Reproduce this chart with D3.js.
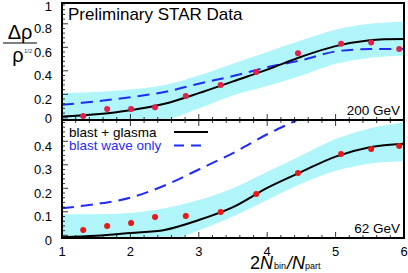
<!DOCTYPE html>
<html>
<head>
<meta charset="utf-8">
<script src="https://d3js.org/d3.v7.min.js"></script>
<style>
  body { margin: 0; background: #fff; }
  text { font-family: "Liberation Sans", Arial, sans-serif; }
</style>
</head>
<body>
<div id="container"></div>
<script>
var w = 408, h = 273;

// shared x grid for the model curves
var gridX = [1, 1.5, 2, 2.5, 3, 3.5, 4, 4.5, 5, 5.5, 6];

// 200 GeV panel
var topDataX = [1.31, 1.66, 2.01, 2.36, 2.81, 3.32, 3.84, 4.45, 5.08, 5.52, 5.93];
var topDataY = [0.055, 0.115, 0.115, 0.13, 0.225, 0.32, 0.43, 0.59, 0.67, 0.68, 0.625];
var topGlasma = [0.05, 0.07, 0.105, 0.16, 0.25, 0.35, 0.45, 0.56, 0.65, 0.70, 0.71];
var topBlast = [0.15, 0.18, 0.215, 0.26, 0.33, 0.395, 0.47, 0.53, 0.605, 0.625, 0.625];
var topBandHi = [0.25, 0.26, 0.28, 0.32, 0.40, 0.50, 0.60, 0.70, 0.79, 0.84, 0.86];
var topBandLo = [-0.05, -0.04, -0.02, 0.02, 0.12, 0.23, 0.31, 0.40, 0.50, 0.55, 0.57];

// 62 GeV panel
var botDataX = [1.31, 1.66, 2.01, 2.36, 2.81, 3.32, 3.84, 4.45, 5.08, 5.52, 5.93];
var botDataY = [0.043, 0.06, 0.072, 0.098, 0.102, 0.119, 0.196, 0.285, 0.366, 0.387, 0.40];
var botGlasma = [0.012, 0.018, 0.03, 0.043, 0.085, 0.14, 0.222, 0.29, 0.355, 0.395, 0.41];
var botBlast = [0.135, 0.153, 0.18, 0.232, 0.30, 0.37, 0.45, 0.52, 0.60, 0.65, 0.68];
var botBandHi = [0.11, 0.11, 0.115, 0.135, 0.17, 0.22, 0.29, 0.36, 0.43, 0.475, 0.50];
var botBandLo = [-0.05, -0.04, -0.03, -0.01, 0.04, 0.10, 0.17, 0.24, 0.295, 0.325, 0.335];

var xTicks = [1, 2, 3, 4, 5, 6];
var topTicks = [0, 0.2, 0.4, 0.6, 0.8, 1];
var botTicks = [0, 0.1, 0.2, 0.3, 0.4];

var left = 62, right = 404;
var x = d3.scaleLinear().domain([1, 6]).range([left, right]);
var yTop = d3.scaleLinear().domain([0, 1]).range([122.5, 5]);
var yBot = d3.scaleLinear().domain([0, 0.5]).range([240, 122.5]);

var panels = [
  {y: yTop, y0: 3, y1: 120, dataY: topDataY, dataX: topDataX, glasma: topGlasma, blast: topBlast,
   hi: topBandHi, lo: topBandLo, ticks: topTicks, minor: 0.04, label: "200 GeV", dot: "#e0224a"},
  {y: yBot, y0: 120, y1: 238, dataY: botDataY, dataX: botDataX, glasma: botGlasma, blast: botBlast,
   hi: botBandHi, lo: botBandLo, ticks: botTicks, minor: 0.02, label: "62 GeV", dot: "#e81818"}
];

var svg = d3.select("#container").append("svg")
  .attr("width", w).attr("height", h);

panels.forEach(function(p, i) {
  var clipId = "clip" + i;
  svg.append("clipPath").attr("id", clipId)
    .append("rect").attr("x", left).attr("y", p.y0)
    .attr("width", right - left).attr("height", p.y1 - p.y0);

  var g = svg.append("g").attr("clip-path", "url(#" + clipId + ")");

  var area = d3.area()
    .x(function(d, j) { return x(gridX[j]); })
    .y0(function(d, j) { return p.y(p.lo[j]); })
    .y1(function(d) { return p.y(d); })
    .curve(d3.curveCatmullRom);
  g.append("path").datum(p.hi).attr("d", area)
    .attr("fill", "#b0f5f9");

  var line = d3.line()
    .x(function(d, j) { return x(gridX[j]); })
    .y(function(d) { return p.y(d); })
    .curve(d3.curveCatmullRom);

  g.append("path").datum(p.blast).attr("d", line)
    .attr("fill", "none").attr("stroke", "#1f2cf5")
    .attr("stroke-width", 2).attr("stroke-dasharray", "12,7");

  g.append("path").datum(p.glasma).attr("d", line)
    .attr("fill", "none").attr("stroke", "#000")
    .attr("stroke-width", 2);

  g.selectAll("circle").data(p.dataY).enter().append("circle")
    .attr("cx", function(d, j) { return x(p.dataX[j]); })
    .attr("cy", function(d) { return p.y(d); })
    .attr("r", 3)
    .attr("fill", p.dot);

  // minor and major ticks on x, bottom edge pointing up
  var xMinor = d3.range(1, 6.001, 0.2);
  svg.append("g").selectAll("line").data(xMinor).enter().append("line")
    .attr("x1", function(d) { return x(d); }).attr("x2", function(d) { return x(d); })
    .attr("y1", p.y1).attr("y2", function(d) {
      return p.y1 - (Math.abs(d - Math.round(d)) < 1e-6 ? 6 : 3);
    })
    .attr("stroke", "#000").attr("stroke-width", 0.8);
  if (i == 1) {
    svg.append("g").selectAll("line").data(xMinor).enter().append("line")
      .attr("x1", function(d) { return x(d); }).attr("x2", function(d) { return x(d); })
      .attr("y1", p.y0).attr("y2", function(d) {
        return p.y0 + (Math.abs(d - Math.round(d)) < 1e-6 ? 6 : 3);
      })
      .attr("stroke", "#000").attr("stroke-width", 0.8);
  }

  // y ticks on left edge
  var yMax = p.ticks[p.ticks.length - 1] + (i == 0 ? 0 : 0.1);
  var yMinor = d3.range(0, yMax + 1e-6, p.minor).filter(function(d) {
    var py = p.y(d);
    return py >= p.y0 && py <= p.y1;
  });
  svg.append("g").selectAll("line").data(yMinor).enter().append("line")
    .attr("x1", left).attr("x2", function(d, j) { return left + (j % 5 == 0 ? 6 : 3); })
    .attr("y1", function(d) { return p.y(d); }).attr("y2", function(d) { return p.y(d); })
    .attr("stroke", "#000").attr("stroke-width", 0.8);

  svg.append("g").selectAll("text").data(p.ticks).enter().append("text")
    .attr("x", 52)
    .attr("y", function(d) {
      var off = 0;
      if (i == 0 && d == 0) off = -4;
      if (i == 0 && d == 1) off = 1.5;
      return p.y(d) + off;
    })
    .attr("dy", "0.36em")
    .attr("text-anchor", "end")
    .attr("font-size", 13)
    .text(function(d) { return d; });

  svg.append("text").attr("x", 400).attr("y", p.y1 - 5)
    .attr("text-anchor", "end").attr("font-size", 13.5)
    .text(p.label);

  svg.append("rect").attr("x", left).attr("y", p.y0)
    .attr("width", right - left).attr("height", p.y1 - p.y0)
    .attr("fill", "none").attr("stroke", "#000").attr("stroke-width", 2);
});

// x tick labels
svg.append("g").selectAll("text").data(xTicks).enter().append("text")
  .attr("x", function(d) { return x(d); })
  .attr("y", 256)
  .attr("text-anchor", "middle")
  .attr("font-size", 13)
  .text(function(d) { return d; });

// titles
svg.append("text").attr("x", 68).attr("y", 20)
  .attr("font-size", 17).text("Preliminary STAR Data");

// legend
var legend = [
  {name: "blast + glasma", color: "#000", dash: null},
  {name: "blast wave only", color: "#1f2cf5", dash: "10,7"}
];
legend.forEach(function(d, i) {
  var ly = 132 + i * 13.5;
  svg.append("text").attr("x", 69).attr("y", ly).attr("dy", "0.35em")
    .attr("font-size", 13.5).attr("fill", d.color).text(d.name);
  svg.append("line").attr("x1", 174).attr("x2", 208)
    .attr("y1", ly).attr("y2", ly)
    .attr("stroke", d.color).attr("stroke-width", 2)
    .attr("stroke-dasharray", d.dash);
});

// x axis label
var xl = svg.append("text").attr("x", 250).attr("y", 269)
  .attr("font-family", "'Liberation Serif', 'Times New Roman', serif")
  .attr("font-size", 18);
xl.append("tspan").text("2");
xl.append("tspan").attr("font-style", "italic").text("N");
xl.append("tspan").attr("font-size", 9).attr("dx", 1).text("bin");
xl.append("tspan").attr("font-style", "italic").attr("dx", 1).text("/N");
xl.append("tspan").attr("font-size", 9).text("part");

// y axis label
svg.append("text").attr("x", 20).attr("y", 39)
  .attr("text-anchor", "middle").attr("font-size", 20).text("Δρ");
svg.append("line").attr("x1", 3).attr("x2", 37).attr("y1", 43).attr("y2", 43)
  .attr("stroke", "#000").attr("stroke-width", 1.2);
svg.append("text").attr("x", 18).attr("y", 62)
  .attr("text-anchor", "middle").attr("font-size", 20).text("ρ");
svg.append("text").attr("x", 24).attr("y", 53)
  .attr("font-size", 6).attr("fill", "#444").text("1/2");
</script>
</body>
</html>
